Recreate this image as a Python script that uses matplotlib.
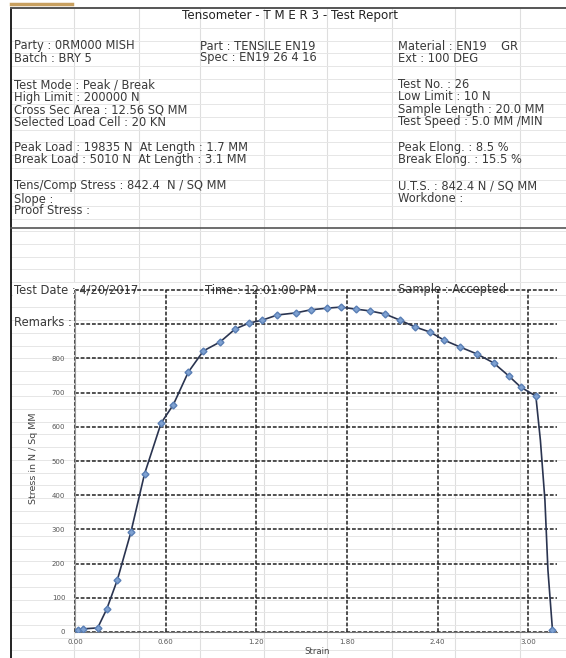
import matplotlib
matplotlib.use("Agg")
import matplotlib.pyplot as plt
import numpy as np

# ---------------- data ----------------
strain = [0.02, 0.05, 0.15, 0.21, 0.28, 0.37, 0.46, 0.57, 0.65, 0.75, 0.85, 0.96,
          1.06, 1.15, 1.24, 1.34, 1.46, 1.56, 1.67, 1.76, 1.86, 1.95, 2.05, 2.15,
          2.25, 2.35, 2.44, 2.55, 2.66, 2.77, 2.87, 2.95, 3.05]
stress = [5, 9, 12, 67, 152, 292, 462, 611, 664, 760, 822, 848,
          886, 903, 912, 927, 933, 942, 947, 950, 944, 939, 930, 912,
          892, 877, 854, 833, 813, 787, 749, 716, 690]
break_strain = [3.05, 3.08, 3.11, 3.13, 3.16]
break_stress = [690, 561, 386, 181, 6]

x_ticks = [0.0, 0.6, 1.2, 1.8, 2.4, 3.0]
x_tick_labels = ["0.00", "0.60", "1.20", "1.80", "2.40", "3.00"]
y_ticks = [0, 100, 200, 300, 400, 500, 600, 700, 800, 900, 1000]
y_tick_labels = ["0", "100", "200", "300", "400", "500", "600", "700", "800", "", ""]

title = "Tensometer - T M E R 3 - Test Report"
col1 = [(46, "Party : 0RM000 MISH"), (58, "Batch : BRY 5"),
        (85, "Test Mode : Peak / Break"), (97, "High Limit : 200000 N"),
        (110, "Cross Sec Area : 12.56 SQ MM"), (122, "Selected Load Cell : 20 KN"),
        (147, "Peak Load : 19835 N  At Length : 1.7 MM"),
        (160, "Break Load : 5010 N  At Length : 3.1 MM"),
        (186, "Tens/Comp Stress : 842.4  N / SQ MM"), (199, "Slope :"),
        (211, "Proof Stress :")]
col2 = [(46, "Part : TENSILE EN19"), (58, "Spec : EN19 26 4 16")]
col3 = [(46, "Material : EN19    GR"), (58, "Ext : 100 DEG"),
        (85, "Test No. : 26"), (97, "Low Limit : 10 N"),
        (110, "Sample Length : 20.0 MM"), (122, "Test Speed : 5.0 MM /MIN"),
        (147, "Peak Elong. : 8.5 %"), (160, "Break Elong. : 15.5 %"),
        (186, "U.T.S. : 842.4 N / SQ MM"), (199, "Workdone :")]
chart_header = [(14, "Test Date : 4/20/2017"), (205, "Time : 12:01:00 PM"),
                (398, "Sample : Accepted")]

# ---------------- figure ----------------
W, H = 566, 658
fig = plt.figure(figsize=(W / 100, H / 100), dpi=100)
fig.patch.set_facecolor("white")
plt.rcParams["font.family"] = ["DejaVu Sans"]

bg = fig.add_axes([0, 0, 1, 1])
bg.set_xlim(0, W)
bg.set_ylim(H, 0)
bg.axis("off")

# faint spreadsheet cells
for cx in [74, 139, 200, 264, 327, 392, 455, 520]:
    bg.plot([cx, cx], [8, H], color="#dedede", lw=0.8, zorder=0)
for ry in np.arange(28, H, 12.7):
    bg.plot([11, W], [ry, ry], color="#e6e6e6", lw=0.7, zorder=0)

# borders
bg.plot([11, 11], [8, H], color="#222222", lw=1.4, zorder=3)
bg.plot([11, W], [8, 8], color="#555555", lw=1.4, zorder=3)
bg.plot([11, 72], [4, 4], color="#c8a060", lw=2.5, zorder=3)
bg.plot([11, W], [228, 228], color="#555555", lw=1.2, zorder=3)

tkw = dict(fontsize=8.3, color="#3a3a3a", va="center", ha="left", zorder=5)
bg.text(290, 16, title, fontsize=8.6, color="#222222", va="center", ha="center", zorder=5)
for y, s in col1:
    bg.text(14, y, s, **tkw)
for y, s in col2:
    bg.text(200, y, s, **tkw)
for y, s in col3:
    bg.text(398, y, s, **tkw)
for x, s in chart_header:
    bg.text(x, 290, s, bbox=dict(facecolor="white", edgecolor="none", pad=0.5), **tkw)
bg.text(14, 323, "Remarks :", **tkw)
bg.text(33, 458, "Stress in N / Sq MM", rotation=90, fontsize=6.8, color="#444444",
        va="center", ha="center")
bg.text(317, 651, "Strain", fontsize=6.2, color="#444444", va="center", ha="center")

# ---------------- chart ----------------
x0, x1, yb, yt = 75, 557, 632, 290
ax = fig.add_axes([x0 / W, (H - yb) / H, (x1 - x0) / W, (yb - yt) / H])
ax.patch.set_alpha(0)
ax.set_xlim(0, 3.19)
ax.set_ylim(0, 1000)
ax.set_xticks(x_ticks)
ax.set_xticklabels(x_tick_labels)
ax.set_yticks(y_ticks)
ax.set_yticklabels(y_tick_labels)
ax.tick_params(length=0, labelsize=5, colors="#555555", pad=7)
ax.tick_params(axis="x", pad=5)
ax.grid(True, color="#222222", lw=1.1, linestyle=(0, (2.5, 1.2)))
for gl in ax.get_ygridlines() + ax.get_xgridlines():
    gl.set_clip_on(False)
for s in ["top", "right"]:
    ax.spines[s].set_visible(False)
ax.spines["left"].set_color("#999999")
ax.spines["bottom"].set_color("#777777")

ax.plot(strain + break_strain[1:], stress + break_stress[1:],
        color="#2a3450", lw=1.2, zorder=4)
ax.plot(strain, stress, linestyle="none", marker="D", ms=3.5,
        mfc="#7fa2d2", mec="#5a7fb5", zorder=5)
ax.plot([break_strain[-1]], [break_stress[-1]], linestyle="none", marker="D",
        ms=3.5, mfc="#7fa2d2", mec="#5a7fb5", zorder=5)

fig.savefig("out.png", dpi=100)
